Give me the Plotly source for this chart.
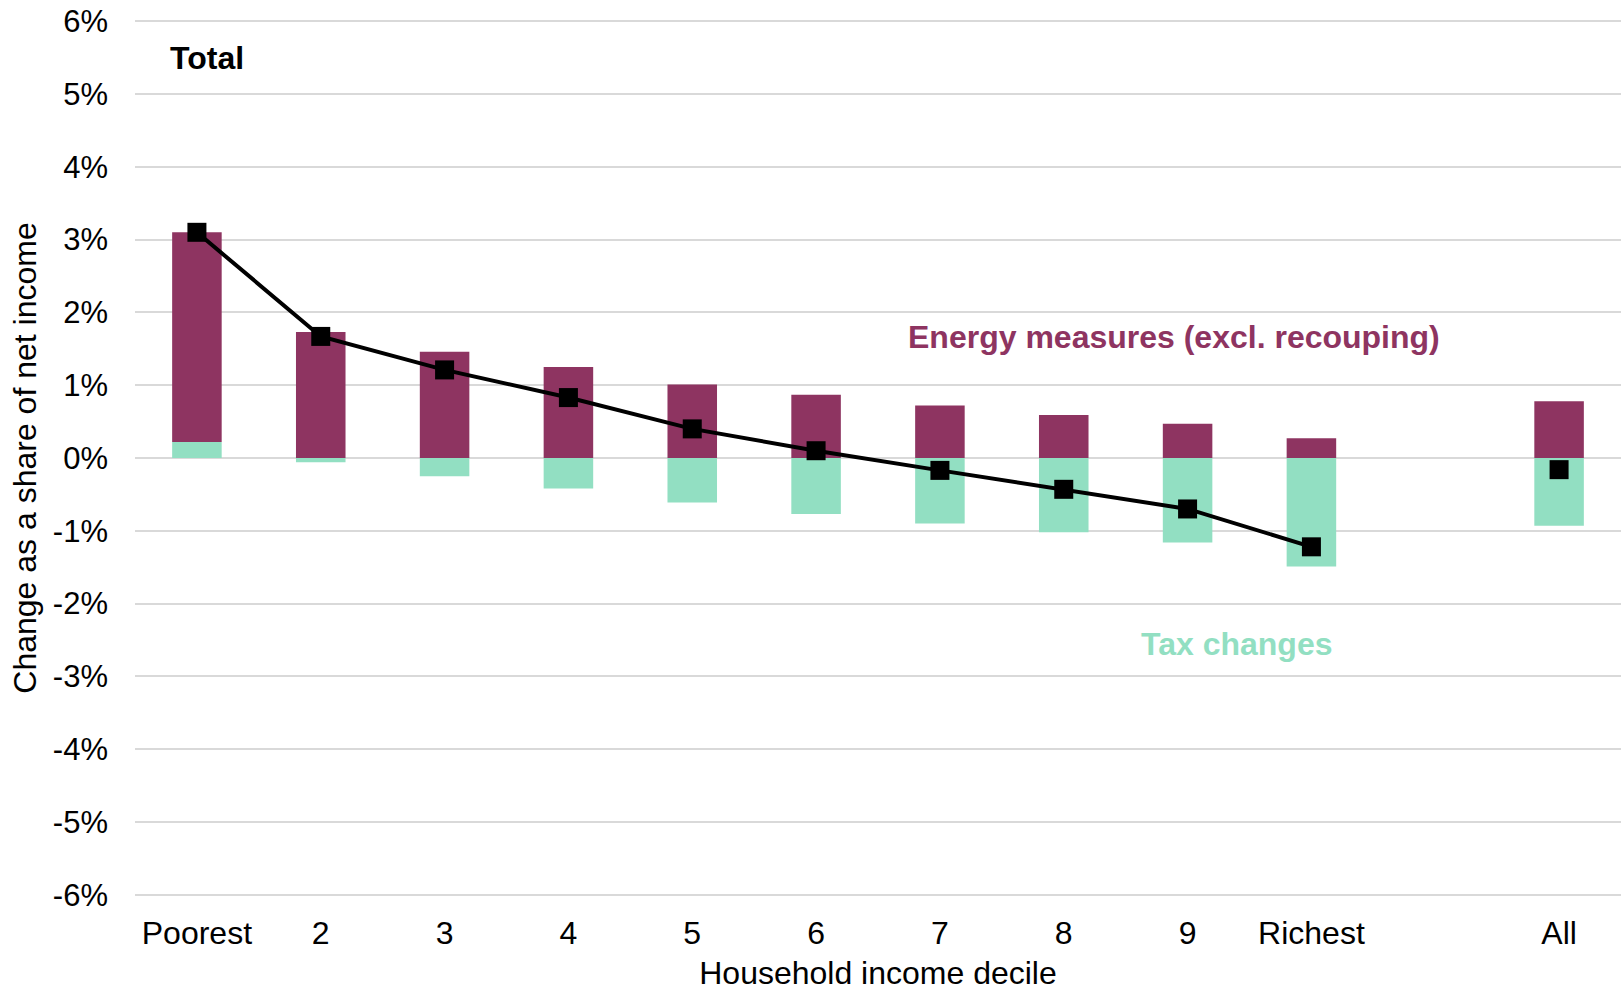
import plotly.graph_objects as go

categories = ["Poorest", "2", "3", "4", "5", "6", "7", "8", "9", "Richest", " ", "All"]
energy = [2.88, 1.73, 1.46, 1.25, 1.01, 0.87, 0.72, 0.59, 0.47, 0.27, None, 0.78]
tax = [0.22, -0.06, -0.25, -0.42, -0.61, -0.77, -0.90, -1.02, -1.16, -1.49, None, -0.93]
total_deciles = ["Poorest", "2", "3", "4", "5", "6", "7", "8", "9", "Richest"]
total = [3.10, 1.67, 1.21, 0.83, 0.40, 0.10, -0.17, -0.43, -0.70, -1.22]
total_all_cat = ["All"]
total_all = [-0.16]

y_tickvals = [6, 5, 4, 3, 2, 1, 0, -1, -2, -3, -4, -5, -6]
y_ticktext = ["6%", "5%", "4%", "3%", "2%", "1%", "0%", "-1%", "-2%", "-3%", "-4%", "-5%", "-6%"]

MAROON = "#8E3461"
MINT = "#92DFC2"
FONT = "Liberation Sans, Arial, sans-serif"

fig = go.Figure()
fig.add_trace(go.Bar(x=categories, y=tax, marker=dict(color=MINT, line=dict(width=0)), width=0.4, name="Tax changes"))
fig.add_trace(go.Bar(x=categories, y=energy, marker=dict(color=MAROON, line=dict(width=0)), width=0.4, name="Energy measures"))
fig.add_trace(go.Scatter(x=total_deciles, y=total, mode="lines+markers",
                         line=dict(color="black", width=4),
                         marker=dict(symbol="square", size=19, color="black"), name="Total"))
fig.add_trace(go.Scatter(x=total_all_cat, y=total_all, mode="markers",
                         marker=dict(symbol="square", size=19, color="black"), name="Total all"))

fig.update_layout(
    width=1621, height=991,
    barmode="relative",
    showlegend=False,
    hovermode=False,
    plot_bgcolor="white", paper_bgcolor="white",
    margin=dict(l=135, r=0, t=18.7, b=94.3, autoexpand=False),
    font=dict(family=FONT, size=31, color="black"),
    xaxis=dict(
        type="category", categoryorder="array", categoryarray=categories,
        range=[-0.5, len(categories) - 0.5],
        showgrid=False, showline=False, zeroline=False, ticks="",
        automargin=False,
        tickfont=dict(size=32), ticklabelstandoff=14,
        title=dict(text="Household income decile", font=dict(size=32), standoff=12),
    ),
    yaxis=dict(
        range=[-6.03, 6.03], tickvals=y_tickvals, ticktext=y_ticktext,
        showgrid=True, gridcolor="#d9d9d9", gridwidth=1.5,
        zeroline=False, showline=False, ticks="",
        automargin=False, ticklabeloverflow="allow",
        tickfont=dict(size=31), ticklabelstandoff=26,
        title=dict(text="Change as a share of net income", font=dict(size=32), standoff=6),
    ),
    annotations=[
        dict(text="<b>Total</b>", xref="paper", yref="y", x=0.0222, y=5.49,
             xanchor="left", yanchor="middle", showarrow=False,
             font=dict(size=32, color="black", family=FONT)),
        dict(text="<b>Energy measures (excl. recouping)</b>", xref="paper", yref="y", x=0.699, y=1.66,
             xanchor="center", yanchor="middle", showarrow=False,
             font=dict(size=32, color=MAROON, family=FONT)),
        dict(text="<b>Tax changes</b>", xref="paper", yref="y", x=0.741, y=-2.55,
             xanchor="center", yanchor="middle", showarrow=False,
             font=dict(size=32, color=MINT, family=FONT)),
    ],
)

fig.write_html("out.html", config={"displayModeBar": False},
               post_script="document.body.style.margin='0';document.body.style.overflow='hidden';")
